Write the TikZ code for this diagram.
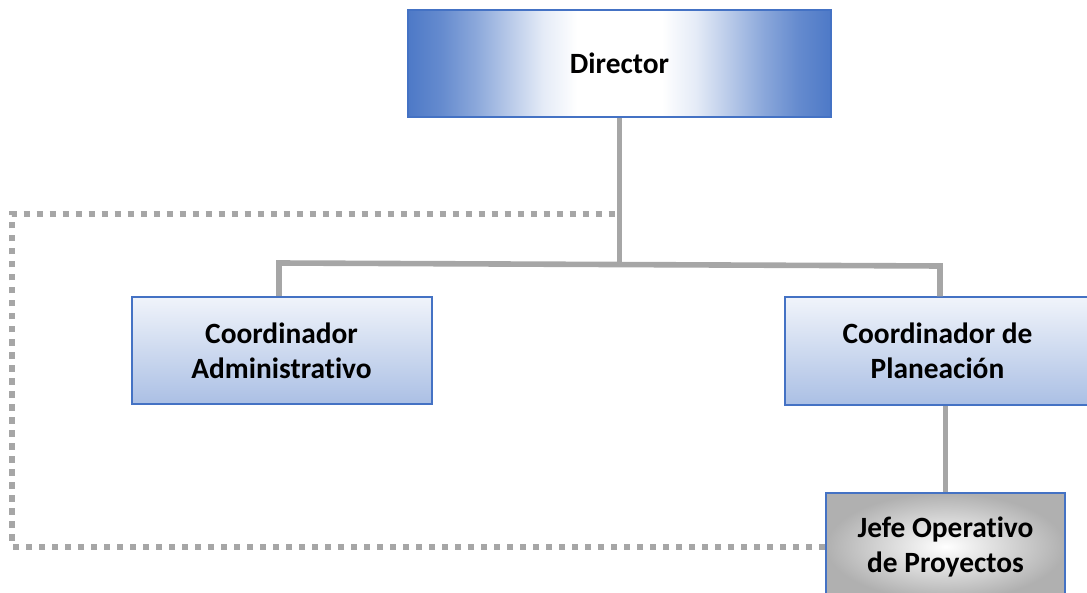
\documentclass[tikz,border=0pt]{standalone}
\usepackage{fontspec}
\setmainfont{Carlito}[Ligatures=NoCommon]
\definecolor{boxblue}{HTML}{4472C4}
\definecolor{linegray}{HTML}{A6A6A6}
\pgfdeclarehorizontalshading{dirshade}{100bp}{color(0bp)=(boxblue); color(25bp)=(boxblue!95); color(29bp)=(boxblue!82);
    color(33bp)=(boxblue!62); color(37bp)=(boxblue!38); color(41bp)=(boxblue!14); color(45bp)=(white);
    color(55bp)=(white); color(59bp)=(boxblue!14); color(63bp)=(boxblue!38); color(67bp)=(boxblue!62);
    color(71bp)=(boxblue!82); color(75bp)=(boxblue!95); color(100bp)=(boxblue)}

\begin{document}
\begin{tikzpicture}[x=0.5pt,y=-0.5pt,
        font=\fontsize{14.7}{17.5}\selectfont\bfseries,
        every node/.style={draw=boxblue,line width=1pt,align=center,minimum height=53.5pt,inner sep=0pt},
        director/.style={shading=dirshade,minimum width=211.5pt},
        coord/.style={top color=boxblue!8,bottom color=boxblue!45,minimum width=150pt},
        jefe/.style={inner color=white,outer color=gray!62,minimum width=119.5pt},
        conn/.style={draw=linegray,line width=2.8pt},
        dots/.style={draw=linegray,line width=3pt,dash pattern=on 3.25pt off 3.25pt}]

    \useasboundingbox (0,0) rectangle (1087,593);

    % boxes
    \node[director] (dir)  at (619.5,63.5) {Director};
    \node[coord]    (adm)  at (281.5,350.5) {Coordinador\\Administrativo};
    \node[coord,minimum width=152.5pt] (plan) at (937.5,351) {Coordinador de\\Planeación};
    \node[jefe]     (jefe) at (945.5,546.5) {Jefe Operativo\\de Proyectos};

    % lines
    \coordinate (barL) at (279,263);
    \coordinate (barR) at (940,266);
    \draw[conn] (dir.south) -- (dir.south |- 0,264);
    \draw[conn] (barL |- adm.north) -- (barL) -- (barR) -- (barR |- plan.north);
    \draw[conn] (jefe.north) -- (jefe.north |- plan.south);

    % dotted link
    \draw[dots] (jefe.west) -| (12,214) -- (dir.south |- 0,214);
\end{tikzpicture}
\end{document}
